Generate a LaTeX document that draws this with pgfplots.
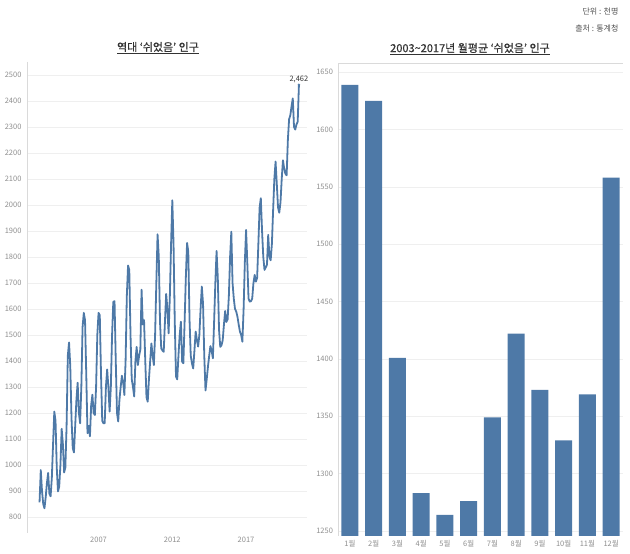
\documentclass[border=0pt]{standalone}
\usepackage{fontspec}
\setmainfont{Noto Sans CJK KR}
\newfontfamily\titlefont[FakeBold=0.6]{Noto Sans CJK KR}
\usepackage{pgfplots}
\usepackage{pgfplotstable}
\pgfplotsset{compat=1.18}

\definecolor{tabblue}{HTML}{4E79A7}
\definecolor{tickgray}{HTML}{8E8E8E}
\definecolor{gridgray}{HTML}{EFEFEF}
\definecolor{framegray}{HTML}{DADADA}
\definecolor{titlegray}{HTML}{333333}

% monthly 'rested' population, thousands (Jan 2003 - Aug 2020)
\pgfplotstableread[row sep=\\]{
yr mo v\\
2003 1 856\\ 2003 2 980\\ 2003 3 900\\ 2003 4 850\\ 2003 5 833\\ 2003 6 875\\
2003 7 930\\ 2003 8 969\\ 2003 9 890\\ 2003 10 879\\ 2003 11 950\\ 2003 12 1080\\
2004 1 1205\\ 2004 2 1170\\ 2004 3 990\\ 2004 4 898\\ 2004 5 917\\ 2004 6 1000\\
2004 7 1139\\ 2004 8 1080\\ 2004 9 971\\ 2004 10 990\\ 2004 11 1150\\ 2004 12 1420\\
2005 1 1471\\ 2005 2 1380\\ 2005 3 1180\\ 2005 4 1065\\ 2005 5 1048\\ 2005 6 1150\\
2005 7 1250\\ 2005 8 1316\\ 2005 9 1200\\ 2005 10 1160\\ 2005 11 1300\\ 2005 12 1530\\
2006 1 1585\\ 2006 2 1557\\ 2006 3 1350\\ 2006 4 1122\\ 2006 5 1150\\ 2006 6 1110\\
2006 7 1230\\ 2006 8 1270\\ 2006 9 1200\\ 2006 10 1192\\ 2006 11 1300\\ 2006 12 1500\\
2007 1 1585\\ 2007 2 1576\\ 2007 3 1350\\ 2007 4 1170\\ 2007 5 1160\\ 2007 6 1160\\
2007 7 1300\\ 2007 8 1367\\ 2007 9 1300\\ 2007 10 1205\\ 2007 11 1300\\ 2007 12 1500\\
2008 1 1627\\ 2008 2 1630\\ 2008 3 1400\\ 2008 4 1200\\ 2008 5 1167\\ 2008 6 1250\\
2008 7 1300\\ 2008 8 1343\\ 2008 9 1320\\ 2008 10 1269\\ 2008 11 1400\\ 2008 12 1650\\
2009 1 1767\\ 2009 2 1750\\ 2009 3 1500\\ 2009 4 1330\\ 2009 5 1300\\ 2009 6 1263\\
2009 7 1400\\ 2009 8 1454\\ 2009 9 1384\\ 2009 10 1420\\ 2009 11 1444\\ 2009 12 1674\\
2010 1 1540\\ 2010 2 1557\\ 2010 3 1400\\ 2010 4 1260\\ 2010 5 1243\\ 2010 6 1330\\
2010 7 1400\\ 2010 8 1467\\ 2010 9 1420\\ 2010 10 1384\\ 2010 11 1500\\ 2010 12 1700\\
2011 1 1887\\ 2011 2 1800\\ 2011 3 1550\\ 2011 4 1448\\ 2011 5 1440\\ 2011 6 1435\\
2011 7 1550\\ 2011 8 1658\\ 2011 9 1600\\ 2011 10 1506\\ 2011 11 1650\\ 2011 12 1850\\
2012 1 2018\\ 2012 2 1850\\ 2012 3 1550\\ 2012 4 1340\\ 2012 5 1329\\ 2012 6 1420\\
2012 7 1500\\ 2012 8 1551\\ 2012 9 1397\\ 2012 10 1391\\ 2012 11 1550\\ 2012 12 1720\\
2013 1 1854\\ 2013 2 1820\\ 2013 3 1560\\ 2013 4 1420\\ 2013 5 1390\\ 2013 6 1371\\
2013 7 1440\\ 2013 8 1513\\ 2013 9 1480\\ 2013 10 1455\\ 2013 11 1500\\ 2013 12 1600\\
2014 1 1686\\ 2014 2 1620\\ 2014 3 1420\\ 2014 4 1286\\ 2014 5 1330\\ 2014 6 1378\\
2014 7 1420\\ 2014 8 1457\\ 2014 9 1440\\ 2014 10 1410\\ 2014 11 1550\\ 2014 12 1700\\
2015 1 1823\\ 2015 2 1720\\ 2015 3 1520\\ 2015 4 1454\\ 2015 5 1460\\ 2015 6 1480\\
2015 7 1540\\ 2015 8 1592\\ 2015 9 1550\\ 2015 10 1560\\ 2015 11 1650\\ 2015 12 1800\\
2016 1 1897\\ 2016 2 1700\\ 2016 3 1640\\ 2016 4 1600\\ 2016 5 1590\\ 2016 6 1570\\
2016 7 1540\\ 2016 8 1513\\ 2016 9 1500\\ 2016 10 1474\\ 2016 11 1600\\ 2016 12 1780\\
2017 1 1904\\ 2017 2 1780\\ 2017 3 1640\\ 2017 4 1628\\ 2017 5 1630\\ 2017 6 1640\\
2017 7 1700\\ 2017 8 1731\\ 2017 9 1705\\ 2017 10 1720\\ 2017 11 1850\\ 2017 12 1990\\
2018 1 2026\\ 2018 2 1900\\ 2018 3 1800\\ 2018 4 1750\\ 2018 5 1760\\ 2018 6 1770\\
2018 7 1885\\ 2018 8 1800\\ 2018 9 1787\\ 2018 10 1850\\ 2018 11 1980\\ 2018 12 2100\\
2019 1 2167\\ 2019 2 2080\\ 2019 3 1990\\ 2019 4 1970\\ 2019 5 2010\\ 2019 6 2100\\
2019 7 2172\\ 2019 8 2140\\ 2019 9 2120\\ 2019 10 2114\\ 2019 11 2250\\ 2019 12 2330\\
2020 1 2345\\ 2020 2 2380\\ 2020 3 2410\\ 2020 4 2300\\ 2020 5 2290\\ 2020 6 2310\\
2020 7 2320\\ 2020 8 2462\\
}\restdata

% 2003-2017 monthly averages
\pgfplotstableread{
m v
0 1639
1 1625
2 1401
3 1283
4 1264
5 1276
6 1349
7 1422
8 1373
9 1329
10 1369
11 1558
}\monthavg

\begin{document}
\begin{tikzpicture}[x=1pt,y=1pt]
\path[use as bounding box] (0,0) rectangle (630,554);

\pgfplotsset{every axis/.append style={
    scale only axis,
    font=\fontsize{7.5}{9}\selectfont,
    tick label style={text=tickgray},
    major tick length=0pt,
    /pgf/number format/assume math mode=true,
    /pgf/number format/1000 sep={},
    axis line style={draw=none},
    ymajorgrids,
    grid style={gridgray, line width=0.6pt},
}}

% left: all-time line
\begin{axis}[
    at={(27pt,21pt)}, anchor=south west,
    width=280pt, height=471pt,
    xmin=2002.15, xmax=2021.13,
    ymin=738, ymax=2550,
    xtick={2007,2012,2017},
    ytick={800,900,...,2500},
    yticklabel style={xshift=-2pt},
    xticklabel style={yshift=-1pt},
]
\draw[framegray] (rel axis cs:0,1) -- (rel axis cs:0,0) -- (rel axis cs:1,0);
\addplot[tabblue, line width=1.8pt, line join=round, no marks]
    table[x expr=\thisrow{yr}+(\thisrow{mo}-1)/12, y=v] {\restdata};
\addplot[only marks, mark=*, mark size=1.1pt, tabblue] coordinates {(2020.583,2462)};
\node[above, font=\fontsize{7.5}{8}\selectfont, text=titlegray, inner sep=2pt]
    at (axis cs:2020.583,2462) {2,462};
\end{axis}

% right: monthly average bars
\begin{axis}[
    at={(338pt,18pt)}, anchor=south west,
    width=285pt, height=473pt,
    xmin=-0.5, xmax=11.5,
    ymin=1245.6, ymax=1658,
    ytick={1250,1300,...,1650},
    xtick={0,...,11},
    xticklabels={1월,2월,3월,4월,5월,6월,7월,8월,9월,10월,11월,12월},
    yticklabel style={xshift=-1.5pt},
    xticklabel style={yshift=-1pt},
    ybar, bar width=17pt,
]
\draw[framegray] (rel axis cs:0,0) -- (rel axis cs:0,1) -- (rel axis cs:1,1);
\addplot[fill=tabblue, draw=none] table[x=m, y=v] {\monthavg};
\end{axis}

% titles and notes
\node[font=\titlefont\fontsize{11}{13}\selectfont, text=titlegray] at (158,506)
    {\underline{역대 ‘쉬었음’ 인구}};
\node[font=\titlefont\fontsize{11}{13}\selectfont, text=titlegray] at (470,505)
    {\underline{2003\textasciitilde 2017년 월평균 ‘쉬었음’ 인구}};
\node[anchor=east, font=\fontsize{8}{9}\selectfont, text=titlegray!85] at (622,542) {단위 : 천명};
\node[anchor=east, font=\fontsize{8}{9}\selectfont, text=titlegray!85] at (622,526) {출처 : 통계청};
\end{tikzpicture}
\end{document}
